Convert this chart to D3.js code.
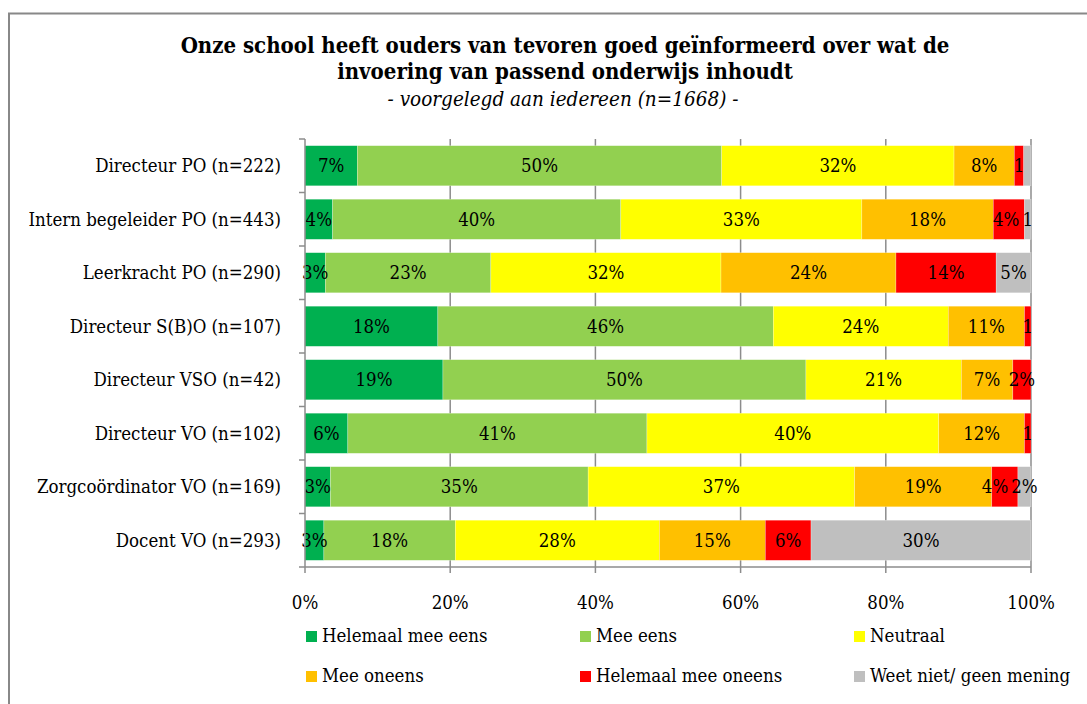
<!DOCTYPE html>
<meta charset="utf-8">
<title>Passend onderwijs - ouders geinformeerd</title>
<style>
body { margin: 0; background: #fff; }
svg text { font-family: "DejaVu Serif Condensed", "DejaVu Serif", serif; fill: #000; }
</style>
<body>
<div id="chart"></div>
<script src="https://d3js.org/d3.v7.min.js"></script>
<script>
// categories (top to bottom)
const categories = [
  "Directeur PO (n=222)",
  "Intern begeleider PO (n=443)",
  "Leerkracht PO (n=290)",
  "Directeur S(B)O (n=107)",
  "Directeur VSO (n=42)",
  "Directeur VO (n=102)",
  "Zorgcoördinator VO (n=169)",
  "Docent VO (n=293)"
];

const seriesNames = ["Helemaal mee eens", "Mee eens", "Neutraal", "Mee oneens", "Helemaal mee oneens", "Weet niet/ geen mening"];
const seriesColors = ["#00B050", "#92D050", "#FFFF00", "#FFC000", "#FF0000", "#BFBFBF"];

// percentages per series, one value per category
const helemaalEens = [7.2, 3.8, 2.8, 18.3, 19.0, 5.9, 3.5, 2.6];
const meeEens      = [50.2, 39.7, 22.8, 46.2, 50.0, 41.2, 35.5, 18.1];
const neutraal     = [32.0, 33.2, 31.7, 24.1, 21.4, 40.2, 36.7, 28.1];
const meeOneens    = [8.3, 18.1, 24.1, 10.5, 7.1, 11.8, 18.9, 14.6];
const helemaalOneens = [1.3, 4.3, 13.8, 0.9, 2.5, 0.9, 3.6, 6.3];
const weetNiet     = [1.0, 0.9, 4.8, 0.0, 0.0, 0.0, 1.8, 30.3];

// data labels as printed on the chart
const lblHelemaalEens = ["7%", "4%", "3%", "18%", "19%", "6%", "3%", "3%"];
const lblMeeEens      = ["50%", "40%", "23%", "46%", "50%", "41%", "35%", "18%"];
const lblNeutraal     = ["32%", "33%", "32%", "24%", "21%", "40%", "37%", "28%"];
const lblMeeOneens    = ["8%", "18%", "24%", "11%", "7%", "12%", "19%", "15%"];
const lblHelemaalOneens = ["1", "4%", "14%", "1", "2%", "1", "4%", "6%"];
const lblWeetNiet     = ["", "1", "5%", "", "", "", "2%", "30%"];

const xTicks = [0, 20, 40, 60, 80, 100];

const seriesValues = [helemaalEens, meeEens, neutraal, meeOneens, helemaalOneens, weetNiet];
const seriesLabels = [lblHelemaalEens, lblMeeEens, lblNeutraal, lblMeeOneens, lblHelemaalOneens, lblWeetNiet];

const width = 1087, height = 704;
const plot = { left: 305, right: 1031, top: 139, bottom: 567 };
const fs = "18.5px";

const svg = d3.select("#chart").append("svg")
    .attr("width", width)
    .attr("height", height);

// outer frame (runs off the picture on the right and bottom)
svg.append("rect")
    .attr("x", 9).attr("y", 13.5)
    .attr("width", 1200).attr("height", 800)
    .attr("fill", "none")
    .attr("stroke", "#888")
    .attr("stroke-width", 2);

// title
const title = svg.append("g").attr("text-anchor", "middle");
title.append("text")
    .attr("x", 565).attr("y", 53)
    .style("font-size", "22px").style("font-weight", "bold")
    .text("Onze school heeft ouders van tevoren goed geïnformeerd over wat de");
title.append("text")
    .attr("x", 565).attr("y", 79)
    .style("font-size", "22px").style("font-weight", "bold")
    .text("invoering van passend onderwijs inhoudt");
title.append("text")
    .attr("x", 563).attr("y", 106)
    .style("font-size", "20.5px").style("font-style", "italic")
    .text("- voorgelegd aan iedereen (n=1668) -");

const x = d3.scaleLinear().domain([0, 100]).range([plot.left, plot.right]);
const y = d3.scaleBand().domain(categories).range([plot.top, plot.bottom]).paddingInner(0.25).paddingOuter(0.125);

// gridlines
svg.append("g")
  .selectAll("line")
  .data(xTicks.slice(1))
  .join("line")
    .attr("x1", d => x(d)).attr("x2", d => x(d))
    .attr("y1", plot.top).attr("y2", plot.bottom)
    .attr("stroke", "#8c8c8c").attr("stroke-width", 1.5);

// stacked data
const rows = categories.map((c, i) => {
  const r = { cat: c };
  seriesNames.forEach((s, j) => r[s] = seriesValues[j][i]);
  return r;
});
const stacked = d3.stack().keys(seriesNames)(rows);

const layers = svg.append("g")
  .selectAll("g")
  .data(stacked)
  .join("g")
    .attr("fill", (d, j) => seriesColors[j]);

layers.selectAll("rect")
  .data(d => d)
  .join("rect")
    .attr("x", d => x(d[0]))
    .attr("width", d => Math.max(0, x(Math.min(100, d[1])) - x(d[0])))
    .attr("y", d => y(d.data.cat))
    .attr("height", y.bandwidth())
    .attr("stroke", "#fff")
    .attr("stroke-opacity", 0.5)
    .attr("stroke-width", 0.5);

// value labels
const labelNodes = categories.map(() => []);
stacked.forEach((layer, j) => {
  svg.append("g")
    .selectAll("text")
    .data(layer)
    .join("text")
      .attr("x", d => (x(d[0]) + x(Math.min(100, d[1]))) / 2)
      .attr("y", d => y(d.data.cat) + y.bandwidth() / 2)
      .attr("dy", "0.35em")
      .attr("text-anchor", "middle")
      .style("font-size", fs)
      .text((d, i) => seriesLabels[j][i])
      .each(function(d, i) { if (seriesLabels[j][i]) labelNodes[i].push(this); });
});
// push labels apart when they collide (right to left, like the original)
labelNodes.forEach(nodes => {
  for (let k = nodes.length - 2; k >= 0; k--) {
    const a = nodes[k], b = nodes[k + 1];
    const ab = a.getBBox(), bb = b.getBBox();
    const over = ab.x + ab.width + 3 - bb.x;
    if (over > 0) a.setAttribute("x", +a.getAttribute("x") - over);
  }
});

// y axis
const yAxis = svg.append("g")
    .attr("transform", `translate(${plot.left},0)`);
yAxis.append("line")
    .attr("x1", 0).attr("x2", 0)
    .attr("y1", plot.top).attr("y2", plot.bottom)
    .attr("stroke", "#8c8c8c").attr("stroke-width", 1.5);
const step = (plot.bottom - plot.top) / categories.length;
yAxis.selectAll(".tk")
  .data(d3.range(categories.length + 1))
  .join("line")
    .attr("class", "tk")
    .attr("x1", -6).attr("x2", 0)
    .attr("y1", i => plot.top + i * step).attr("y2", i => plot.top + i * step)
    .attr("stroke", "#8c8c8c").attr("stroke-width", 1.5);
yAxis.selectAll("text")
  .data(categories)
  .join("text")
    .attr("x", -24)
    .attr("y", d => y(d) + y.bandwidth() / 2)
    .attr("dy", "0.35em")
    .attr("text-anchor", "end")
    .style("font-size", fs)
    .text(d => d);

// x axis
const xAxis = svg.append("g");
xAxis.append("line")
    .attr("x1", plot.left).attr("x2", plot.right)
    .attr("y1", plot.bottom).attr("y2", plot.bottom)
    .attr("stroke", "#8c8c8c").attr("stroke-width", 1.5);
xAxis.selectAll("line.tk")
  .data(xTicks)
  .join("line")
    .attr("class", "tk")
    .attr("x1", d => x(d)).attr("x2", d => x(d))
    .attr("y1", plot.bottom).attr("y2", plot.bottom + 6)
    .attr("stroke", "#8c8c8c").attr("stroke-width", 1.5);
xAxis.selectAll("text")
  .data(xTicks)
  .join("text")
    .attr("x", d => x(d))
    .attr("y", 609)
    .attr("text-anchor", "middle")
    .style("font-size", fs)
    .text(d => d + "%");

// legend: 3 columns, 2 rows
const legendX = [306, 580, 854];
const legendY = [642, 682];
const legend = svg.append("g")
  .selectAll("g")
  .data(seriesNames)
  .join("g")
    .attr("transform", (d, i) => `translate(${legendX[i % 3]},${legendY[Math.floor(i / 3)]})`);
legend.append("rect")
    .attr("x", 0).attr("y", -11)
    .attr("width", 11).attr("height", 11)
    .attr("fill", (d, i) => seriesColors[i]);
legend.append("text")
    .attr("x", 16)
    .style("font-size", fs)
    .text(d => d);
</script>
</body>
</html>
